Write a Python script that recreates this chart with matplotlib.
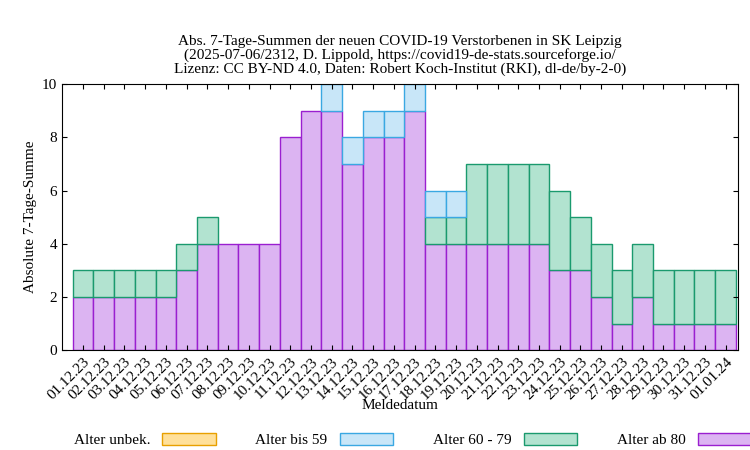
import matplotlib
matplotlib.use("Agg")
import matplotlib.pyplot as plt
import numpy as np
from matplotlib.patches import Patch

plt.rcParams['font.family'] = ['Liberation Serif', 'DejaVu Serif']

dates = [f"{d:02d}.12.23" for d in range(1, 32)] + ["01.01.24"]
a80 = [2,2,2,2,2,3,4,4,4,4,8,9,9,7,8,8,9,4,4,4,4,4,4,3,3,2,1,2,1,1,1,1]
a6079 = [1,1,1,1,1,1,1,0,0,0,0,0,0,0,0,0,0,1,1,3,3,3,3,3,2,2,2,2,2,2,2,2]
a59 = [0,0,0,0,0,0,0,0,0,0,0,0,1,1,1,1,1,1,1,0,0,0,0,0,0,0,0,0,0,0,0,0]
unbek = [0]*32

fig = plt.figure(figsize=(7.5, 4.5), dpi=100)
ax = fig.add_axes([0.083, 0.222, 0.901, 0.591])
x = np.arange(len(dates))

def stack(vals, bottom, fc, ec):
    v = np.array(vals, float)
    m = v > 0
    if m.any():
        ax.bar(x[m], v[m], width=1.0, bottom=bottom[m], color=fc, edgecolor=ec, linewidth=1)
    return bottom + v

b = np.zeros(len(dates))
b = stack(a80, b, '#dcb4f2', '#9a1fd0')
b = stack(a6079, b, '#b2e3d0', '#1a9a6e')
b = stack(a59, b, '#c8e6f8', '#3aa8e2')
b = stack(unbek, b, '#ffe09a', '#e8a000')

ax.set_xlim(-1.0, len(dates) - 0.4)
ax.set_ylim(0, 10)
ax.set_xticks(x)
ax.set_xticklabels(dates, rotation=45, ha='right', rotation_mode='anchor', fontsize=11)
ax.set_yticks(range(0, 11, 2))
ax.tick_params(direction='in', labelsize=11, top=True, right=True)
ax.set_ylabel("Absolute 7-Tage-Summe", fontsize=11)
ax.set_xlabel("Meldedatum", fontsize=11, labelpad=-2)
ax.set_title("Abs. 7-Tage-Summen der neuen COVID-19 Verstorbenen in SK Leipzig\n"
             "(2025-07-06/2312, D. Lippold, https://covid19-de-stats.sourceforge.io/\n"
             "Lizenz: CC BY-ND 4.0, Daten: Robert Koch-Institut (RKI), dl-de/by-2-0)",
             fontsize=11, linespacing=1.05, pad=8)

handles = [Patch(facecolor='#ffe09a', edgecolor='#e8a000'),
           Patch(facecolor='#c8e6f8', edgecolor='#3aa8e2'),
           Patch(facecolor='#b2e3d0', edgecolor='#1a9a6e'),
           Patch(facecolor='#dcb4f2', edgecolor='#9a1fd0')]
labels = ["Alter unbek.", "Alter bis 59", "Alter 60 - 79", "Alter ab 80"]
fig.legend(handles, labels, loc='lower center', ncol=4, frameon=False,
           bbox_to_anchor=(0.55, -0.025), fontsize=11, markerfirst=False,
           handlelength=3.5, handleheight=0.8, columnspacing=2.6)
fig.savefig("out.png", dpi=100)
